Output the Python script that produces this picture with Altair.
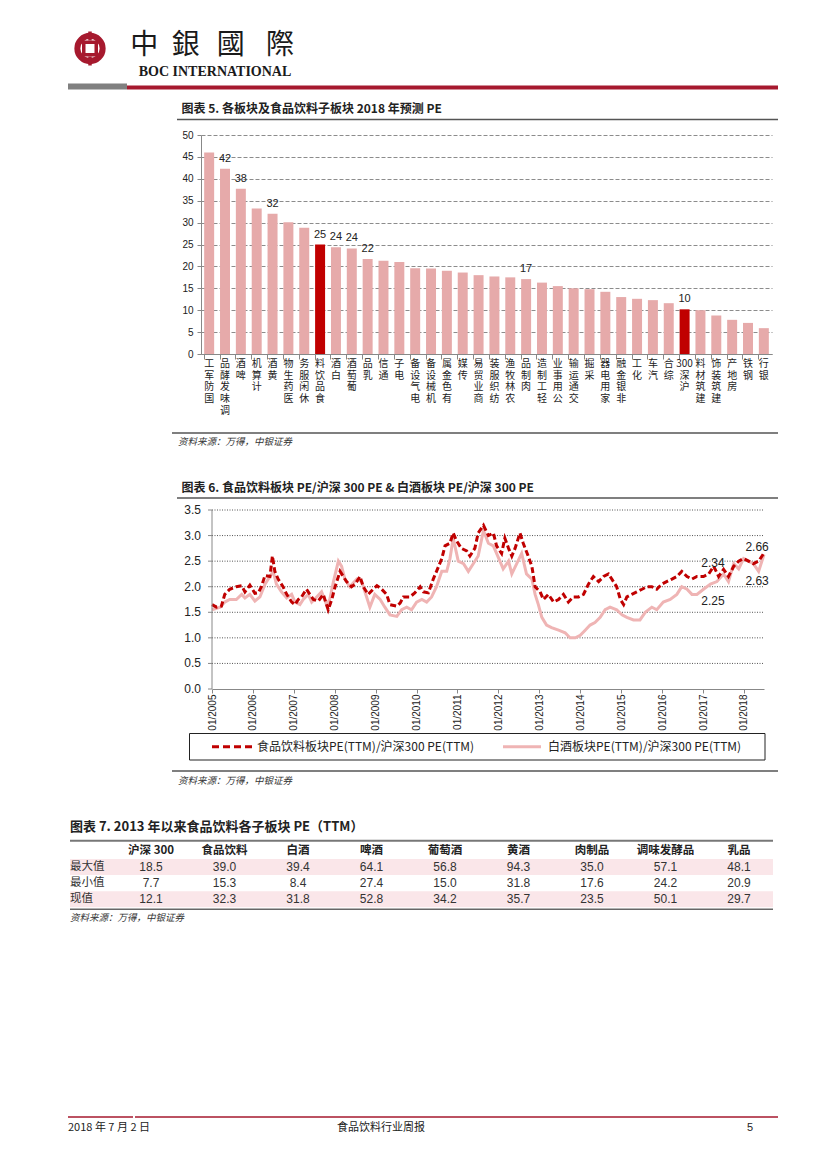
import re
import altair as alt
import pandas as pd

CJK = "Noto Sans CJK SC"
CJK_TC = "Noto Sans CJK TC"
LAT = "Liberation Sans"
NAR = "'Liberation Sans Narrow', 'Liberation Sans', Arial"
SERIF = "Liberation Serif"
RED = "#C00000"
PINK = "#E6AAAA"
LOGO = "#A6192E"
INK = "#222222"

# ---------------- data: chart 5 ----------------
sectors = ["国防军工", "调味发酵品", "啤酒", "计算机", "黄酒", "医药生物", "休闲服务", "食品饮料",
           "白酒", "葡萄酒", "乳品", "通信", "电子", "电气设备", "机械设备", "有色金属", "传媒",
           "商业贸易", "纺织服装", "农林牧渔", "肉制品", "轻工制造", "公用事业", "交通运输", "采掘",
           "家用电器", "非银金融", "化工", "汽车", "综合", "沪深300", "建筑材料", "建筑装饰",
           "房地产", "钢铁", "银行"]
pe2018 = [46.0, 42.3, 37.7, 33.2, 32.0, 30.1, 28.8, 25.0, 24.4, 24.1, 21.7, 21.3, 21.0, 19.6,
          19.5, 19.0, 18.6, 18.0, 17.7, 17.5, 17.1, 16.3, 15.5, 15.0, 14.8, 14.2, 13.0, 12.6,
          12.3, 11.6, 10.2, 10.0, 8.8, 7.8, 7.1, 5.9]
labeled = ["调味发酵品", "啤酒", "黄酒", "食品饮料", "白酒", "葡萄酒", "乳品", "肉制品", "沪深300"]
highlight = ["食品饮料", "沪深300"]
y5_ticks = [0, 5, 10, 15, 20, 25, 30, 35, 40, 45, 50]

# ---------------- data: chart 6 ----------------
fb_dates = ["2005-01-01", "2005-02-10", "2005-03-26", "2005-04-25", "2005-06-08", "2005-08-06",
            "2005-09-23", "2005-10-22", "2005-12-05", "2006-01-19", "2006-02-18", "2006-03-18",
            "2006-04-19", "2006-06-02", "2006-06-24", "2006-07-16", "2006-08-14", "2006-09-27",
            "2006-10-30", "2006-12-13", "2007-01-12", "2007-02-10", "2007-03-11", "2007-04-24",
            "2007-06-25", "2007-08-08", "2007-09-21", "2007-11-04", "2007-12-06", "2008-01-05",
            "2008-02-18", "2008-03-18", "2008-04-16", "2008-05-30", "2008-07-01", "2008-08-14",
            "2008-09-12", "2008-10-26", "2008-12-09", "2009-01-12", "2009-02-24", "2009-04-09",
            "2009-05-08", "2009-07-09", "2009-08-07", "2009-09-05", "2009-11-02", "2009-12-16",
            "2010-02-02", "2010-03-03", "2010-04-16", "2010-05-30", "2010-06-28", "2010-08-14",
            "2010-09-12", "2010-10-26", "2010-11-24", "2010-12-23", "2011-02-05", "2011-03-24",
            "2011-04-22", "2011-06-05", "2011-07-05", "2011-08-21", "2011-10-04", "2011-11-17",
            "2011-12-16", "2012-01-30", "2012-02-28", "2012-04-01", "2012-04-30", "2012-05-29",
            "2012-07-12", "2012-08-10", "2012-09-23", "2012-10-26", "2012-11-24", "2013-01-08",
            "2013-02-06", "2013-03-22", "2013-05-08", "2013-06-21", "2013-08-04", "2013-09-17",
            "2013-10-31", "2013-12-17", "2014-01-30", "2014-03-15", "2014-04-28", "2014-06-14",
            "2014-07-28", "2014-09-10", "2014-10-24", "2014-11-22", "2014-12-25", "2015-01-23",
            "2015-02-21", "2015-04-06", "2015-05-20", "2015-07-06", "2015-08-19", "2015-10-02",
            "2015-11-15", "2015-12-29", "2016-02-11", "2016-03-29", "2016-05-12", "2016-06-25",
            "2016-08-11", "2016-09-24", "2016-11-07", "2017-01-05", "2017-02-21", "2017-04-06",
            "2017-05-20", "2017-07-03", "2017-08-16", "2017-10-02", "2017-11-15", "2017-12-29",
            "2018-02-11", "2018-03-26", "2018-05-12", "2018-06-29"]
fb_vals = [1.65, 1.60, 1.62, 1.85, 1.95, 2.00, 2.02, 1.90, 2.03, 1.87, 1.88, 2.00, 2.22, 2.20,
           2.60, 2.30, 2.15, 2.00, 1.85, 1.70, 1.65, 1.75, 1.80, 1.95, 1.75, 1.72, 1.85, 1.55,
           1.75, 2.00, 2.30, 2.20, 2.10, 2.00, 2.05, 2.20, 2.00, 1.85, 1.95, 2.02, 1.95, 1.85,
           1.65, 1.62, 1.68, 1.80, 1.80, 1.88, 2.00, 1.90, 1.88, 2.15, 2.30, 2.55, 2.80, 2.85,
           3.05, 2.90, 2.75, 2.70, 2.60, 2.75, 3.05, 3.20, 3.00, 3.05, 2.80, 2.65, 2.95, 2.75,
           2.60, 2.75, 3.05, 2.85, 2.60, 2.40, 2.00, 1.90, 1.75, 1.85, 1.70, 1.75, 1.85, 1.70,
           1.80, 1.80, 1.85, 2.05, 2.20, 2.10, 2.20, 2.25, 2.10, 2.00, 1.75, 1.65, 1.80, 1.85,
           1.90, 1.95, 2.00, 2.00, 1.95, 2.05, 2.10, 2.15, 2.20, 2.30, 2.20, 2.15, 2.20, 2.20,
           2.25, 2.40, 2.20, 2.34, 2.20, 2.40, 2.50, 2.55, 2.50, 2.45, 2.50, 2.66]
bj_dates = ["2005-01-01", "2005-03-15", "2005-04-25", "2005-06-08", "2005-08-06", "2005-09-23",
            "2005-10-22", "2005-12-05", "2006-01-19", "2006-03-05", "2006-04-19", "2006-06-02",
            "2006-07-01", "2006-07-30", "2006-09-13", "2006-10-30", "2006-12-13", "2007-01-12",
            "2007-02-25", "2007-03-26", "2007-05-10", "2007-06-10", "2007-07-24", "2007-09-06",
            "2007-10-20", "2007-11-18", "2007-12-21", "2008-02-03", "2008-03-03", "2008-04-01",
            "2008-05-15", "2008-07-16", "2008-08-29", "2008-10-12", "2008-11-10", "2008-12-24",
            "2009-02-10", "2009-03-24", "2009-05-08", "2009-07-09", "2009-08-21", "2009-10-05",
            "2009-11-17", "2010-01-01", "2010-02-17", "2010-04-01", "2010-05-15", "2010-06-28",
            "2010-08-14", "2010-09-27", "2010-10-26", "2010-11-24", "2011-01-08", "2011-02-24",
            "2011-04-08", "2011-05-22", "2011-07-05", "2011-08-21", "2011-10-04", "2011-11-17",
            "2012-01-15", "2012-02-13", "2012-04-01", "2012-04-30", "2012-06-13", "2012-07-27",
            "2012-09-08", "2012-10-26", "2012-11-24", "2012-12-23", "2013-01-23", "2013-03-06",
            "2013-04-20", "2013-06-21", "2013-08-19", "2013-10-01", "2013-11-18", "2014-01-01",
            "2014-02-14", "2014-03-30", "2014-05-12", "2014-06-28", "2014-08-11", "2014-09-24",
            "2014-11-22", "2015-01-08", "2015-02-21", "2015-04-21", "2015-06-18", "2015-08-04",
            "2015-10-02", "2015-11-15", "2016-01-12", "2016-03-14", "2016-05-12", "2016-06-25",
            "2016-08-11", "2016-09-24", "2016-11-07", "2017-01-05", "2017-03-08", "2017-05-05",
            "2017-07-03", "2017-08-16", "2017-10-02", "2017-11-15", "2017-12-29", "2018-02-11",
            "2018-03-26", "2018-05-12", "2018-06-29"]
bj_vals = [1.55, 1.60, 1.70, 1.75, 1.75, 1.85, 1.78, 1.85, 1.72, 1.80, 2.05, 2.20, 2.30, 2.05,
           1.90, 1.78, 1.85, 1.70, 1.65, 1.75, 1.85, 1.70, 1.80, 1.90, 1.65, 1.75, 2.10, 2.50,
           2.40, 2.15, 2.00, 2.15, 2.10, 1.80, 1.60, 1.85, 1.75, 1.60, 1.45, 1.42, 1.55, 1.60,
           1.55, 1.70, 1.75, 1.70, 1.80, 2.00, 2.30, 2.30, 2.55, 2.95, 2.50, 2.45, 2.30, 2.45,
           2.60, 3.10, 2.85, 2.80, 2.50, 2.35, 2.50, 2.25, 2.45, 2.65, 2.25, 2.15, 1.85, 1.65,
           1.40, 1.25, 1.20, 1.15, 1.10, 1.00, 1.00, 1.05, 1.15, 1.25, 1.30, 1.40, 1.55, 1.60,
           1.55, 1.45, 1.40, 1.35, 1.35, 1.50, 1.60, 1.55, 1.70, 1.75, 1.85, 2.00, 1.95, 1.85,
           1.85, 1.95, 2.05, 2.10, 2.25, 2.10, 2.45, 2.35, 2.55, 2.50, 2.45, 2.30, 2.63]
callout_up_dates = ["2017-03-31", "2018-04-28"]
callout_up_vals = [2.34, 2.66]
callout_dn_dates = ["2017-03-31", "2018-04-28"]
callout_dn_vals = [2.25, 2.63]
y6_ticks = [0.0, 0.5, 1.0, 1.5, 2.0, 2.5, 3.0, 3.5]
x6_years = list(range(2005, 2019))
legend6 = ["食品饮料板块PE(TTM)/沪深300 PE(TTM)", "白酒板块PE(TTM)/沪深300 PE(TTM)"]

# ---------------- data: table 7 ----------------
t_cols = ["沪深 300", "食品饮料", "白酒", "啤酒", "葡萄酒", "黄酒", "肉制品", "调味发酵品", "乳品"]
t_rows = ["最大值", "最小值", "现值"]
t_max = [18.5, 39.0, 39.4, 64.1, 56.8, 94.3, 35.0, 57.1, 48.1]
t_min = [7.7, 15.3, 8.4, 27.4, 15.0, 31.8, 17.6, 24.2, 20.9]
t_now = [12.1, 32.3, 31.8, 52.8, 34.2, 35.7, 23.5, 50.1, 29.7]
t_shaded = ["最大值", "现值"]

ONE = pd.DataFrame({"k": [0]})


def txt(s, x, y, size=12, font=CJK, weight="normal", color=INK, align="left", style="normal"):
    return alt.Chart(ONE).mark_text(text=s, font=font, fontSize=size, fontWeight=weight,
                                    fontStyle=style, color=color, align=align,
                                    baseline="middle").encode(x=alt.value(x), y=alt.value(y))


def rule(x1, x2, y1, y2, color, w=1.0, dash=None):
    kw = dict(color=color, strokeWidth=w)
    if dash:
        kw["strokeDash"] = dash
    return alt.Chart(ONE).mark_rule(**kw).encode(x=alt.value(x1), x2=alt.value(x2),
                                                 y=alt.value(y1), y2=alt.value(y2))


def rect(x1, x2, y1, y2, fill, stroke=None, sw=1.0):
    kw = dict(fill=fill)
    if stroke:
        kw["stroke"] = stroke
        kw["strokeWidth"] = sw
    return alt.Chart(ONE).mark_rect(**kw).encode(x=alt.value(x1), x2=alt.value(x2),
                                                 y=alt.value(y1), y2=alt.value(y2))


# ---------------- panel 1: header ----------------
p1 = alt.layer(
    rect(-193, -192, -12, -11, "white"),
    alt.Chart(ONE).mark_point(shape="circle", size=640, filled=False, strokeWidth=6,
                              color=LOGO, opacity=1).encode(x=alt.value(-111), y=alt.value(28.5)),
    alt.Chart(ONE).mark_point(shape="square", size=156, filled=False, strokeWidth=3.5,
                              color=LOGO, opacity=1).encode(x=alt.value(-111), y=alt.value(28.5)),
    rule(-111, -111, 11.5, 20.5, LOGO, 3.5),
    rule(-111, -111, 36.5, 45.5, LOGO, 3.5),
    txt("中", -56.8, 26, 28, CJK_TC, align="center", color="#1a1a1a"),
    txt("銀", -15.2, 26, 28, CJK_TC, align="center", color="#1a1a1a"),
    txt("國", 29.8, 26, 28, CJK_TC, align="center", color="#1a1a1a"),
    txt("際", 79, 26, 28, CJK_TC, align="center", color="#1a1a1a"),
    txt("BOC INTERNATIONAL", 14, 51.5, 14, SERIF, "bold", "#1a1a1a", align="center"),
    rect(-133, -74, 63.5, 69.5, "#808080"),
    rect(-74, 577, 65.5, 69.5, LOGO),
    txt("图表 5. 各板块及食品饮料子板块 2018 年预测 PE", -19.5, 89, 12, CJK, "bold"),
    rule(-24, 577, 99.5, 99.5, "#555555", 1.5),
).properties(width=571, height=115)


# ---------------- panel 2: bar chart ----------------
def stack(name):
    toks = re.findall(r"[0-9]+|.", name)
    return "\n".join(reversed(toks))


df5 = pd.DataFrame({"sector": sectors, "pe": pe2018})
df5["stack"] = df5["sector"].map(stack)
xs5 = alt.Scale(domain=sectors, paddingInner=0.37, paddingOuter=0.2)
ys5 = alt.Scale(domain=[0, 50])
ax5x = alt.Axis(labels=False, ticks=True, tickSize=5, bandPosition=0,
                domainColor="#888888", tickColor="#888888", grid=False)
ax5y = alt.Axis(values=y5_ticks, grid=True, gridDash=[4, 2], gridColor="#8c8c8c",
                domainColor="#888888", tickColor="#888888", tickSize=4, labelPadding=4,
                labelFontSize=10, labelFont=LAT, labelColor=INK, labelOverlap=False)
X5 = alt.X("sector:N", sort=sectors, scale=xs5, title=None, axis=ax5x)
Y5 = alt.Y("pe:Q", scale=ys5, title=None, axis=ax5y)
base5 = alt.Chart(df5)
bars = base5.mark_bar().encode(
    x=X5, y=Y5,
    color=alt.condition(alt.FieldOneOfPredicate(field="sector", oneOf=highlight),
                        alt.value(RED), alt.value(PINK)),
)
vlabels = base5.mark_text(baseline="bottom", dy=-5, fontSize=11, font=LAT, color=INK).encode(
    x=X5, y=Y5, text=alt.Text("pe:Q", format=".0f"),
).transform_filter(alt.FieldOneOfPredicate(field="sector", oneOf=labeled))
xlabels = base5.mark_text(baseline="top", lineBreak="\n", lineHeight=11.7, fontSize=10,
                          font=CJK, color=INK).encode(
    x=X5, y=alt.value(224), text="stack:N",
)
p2 = alt.layer(bars, vlabels, xlabels).properties(width=571, height=219)

# ---------------- panel 3: source + chart 6 title ----------------
p3 = alt.layer(
    rule(-29, 577, 79, 79, "#7f7f7f", 2),
    txt("资料来源：万得，中银证券", -23, 88, 9.5, CJK, style="italic", color="#333333"),
    txt("图表 6. 食品饮料板块 PE/沪深 300 PE & 白酒板块 PE/沪深 300 PE", -19.5, 134, 12, CJK, "bold"),
    rule(-24, 577, 144, 144, "#555555", 1.5),
).properties(width=571, height=156)

# ---------------- panel 4: line chart ----------------
df_fb = pd.DataFrame({"date": fb_dates, "v": fb_vals})
df_bj = pd.DataFrame({"date": bj_dates, "v": bj_vals})
df_up = pd.DataFrame({"date": callout_up_dates, "v": callout_up_vals})
df_dn = pd.DataFrame({"date": callout_dn_dates, "v": callout_dn_vals})
df_yt = pd.DataFrame({"v": y6_ticks})

xs6 = alt.Scale(domain=[alt.DateTime(year=2005, month=1, date=1),
                        alt.DateTime(year=2018, month=6, date=29)], range=[11, 563])
ys6 = alt.Scale(domain=[0, 3.5])
ax6x = alt.Axis(format="%m/%Y", labelAngle=270,
                values=[alt.DateTime(year=y, month=1, date=1) for y in x6_years],
                grid=False, tickSize=4, labelPadding=1, domainColor="#888888",
                tickColor="#888888", labelFontSize=10, labelFont=LAT, labelColor=INK,
                labelOverlap=False)
xenc = alt.X("date:T", scale=xs6, title=None, axis=ax6x)
yenc = alt.Y("v:Q", scale=ys6, axis=None)

grid6 = alt.Chart(df_yt).mark_rule(color="#555555", strokeDash=[1, 1.5], strokeWidth=1).encode(
    y=yenc, x=alt.value(11), x2=alt.value(563)).transform_filter("datum.v > 0")
ylab6 = alt.Chart(df_yt).mark_text(align="right", baseline="middle", fontSize=12, font=LAT,
                                   color=INK).encode(
    y=yenc, x=alt.value(0), text=alt.Text("v:Q", format=".1f"))
ytick6 = alt.Chart(df_yt).mark_rule(color="#888888").encode(
    y=yenc, x=alt.value(7), x2=alt.value(11))
line_bj = alt.Chart(df_bj).mark_line(color="#EFB4B4", strokeWidth=3).encode(x=xenc, y=yenc)
line_fb = alt.Chart(df_fb).mark_line(color=RED, strokeWidth=3, strokeDash=[6, 3]).encode(
    x=xenc, y=yenc)
up6 = alt.Chart(df_up).mark_text(dy=-6, fontSize=12, font=LAT, color=INK).encode(
    x=xenc, y=yenc, text=alt.Text("v:Q", format=".2f"))
dn6 = alt.Chart(df_dn).mark_text(dy=27, fontSize=12, font=LAT, color=INK).encode(
    x=xenc, y=yenc, text=alt.Text("v:Q", format=".2f"))
p4 = alt.layer(grid6, line_bj, line_fb, ytick6, ylab6,
               rule(11, 11, 0, 179, "#888888", 1), up6, dn6).properties(width=563, height=179)

# ---------------- panel 5: legend, table, footer ----------------
rows_all = ["hdr"] + t_rows
xs7 = alt.Scale(type="point", domain=t_cols, range=[-50, 538], padding=0)
ys7 = alt.Scale(type="point", domain=rows_all, range=[161.7, 210.3], padding=0)
X7 = alt.X("col:N", scale=xs7, axis=None)
Y7 = alt.Y("row:N", scale=ys7, axis=None)

df_hdr = pd.DataFrame({"col": t_cols, "row": ["hdr"] * len(t_cols)})
recs = []
for rname, vals in zip(t_rows, [t_max, t_min, t_now]):
    for c, v in zip(t_cols, vals):
        recs.append({"row": rname, "col": c, "val": v})
df_val = pd.DataFrame(recs)
df_rows = pd.DataFrame({"row": t_rows})

shade = alt.Chart(df_rows).mark_rule(color="#FAE6E9", strokeWidth=16).encode(
    y=Y7, x=alt.value(-131), x2=alt.value(572)
).transform_filter(alt.FieldOneOfPredicate(field="row", oneOf=t_shaded))
rowlab = alt.Chart(df_rows).mark_text(align="left", baseline="middle", fontSize=11.5, font=CJK,
                                      color="#333333").encode(
    y=Y7, x=alt.value(-131), text="row:N")
hdr = alt.Chart(df_hdr).mark_text(baseline="middle", fontSize=11.5, font=CJK, fontWeight="bold",
                                  color=INK).encode(x=X7, y=Y7, text="col:N")
vals7 = alt.Chart(df_val).mark_text(baseline="middle", fontSize=12, font=NAR, color="#333333").encode(
    x=X7, y=Y7, text=alt.Text("val:Q", format=".1f"))

p5 = alt.layer(
    rect(-11.5, 564, 44.5, 71, "white", "#222222", 1),
    rule(11, 52, 57.7, 57.7, RED, 3, [7, 4]),
    txt(legend6[0], 56, 57.7, 12, CJK),
    rule(302, 340, 57.7, 57.7, "#EFB4B4", 3),
    txt(legend6[1], 347, 57.7, 12, CJK),
    rule(-29, 577, 82, 82, "#7f7f7f", 2),
    txt("资料来源：万得，中银证券", -23, 92, 9.5, CJK, style="italic", color="#333333"),
    txt("图表 7. 2013 年以来食品饮料各子板块 PE（TTM）", -131, 137.5, 13, CJK, "bold"),
    rule(-131, 572, 151.7, 151.7, "#777777", 2),
    shade, rowlab, hdr, vals7,
    rule(-131, 572, 220.3, 220.3, "#666666", 1.5),
    txt("资料来源：万得，中银证券", -131, 229, 9.5, CJK, style="italic", color="#333333"),
    rule(-133, -68, 428, 428, LOGO, 1.5),
    rule(-66, 577, 428, 428, LOGO, 1.5),
    txt("2018 年 7 月 2 日", -133, 439, 11, CJK),
    txt("食品饮料行业周报", 180, 439, 11, CJK, align="center"),
    txt("5", 549, 439, 11, LAT, align="center"),
).properties(width=571, height=460)

chart = alt.vconcat(p1, p2, p3, p4, p5, spacing=0, bounds="flush").properties(
    padding=0, background="white"
).configure_view(strokeWidth=0)

chart.save("out.html", embed_options={"renderer": "svg", "actions": False})
